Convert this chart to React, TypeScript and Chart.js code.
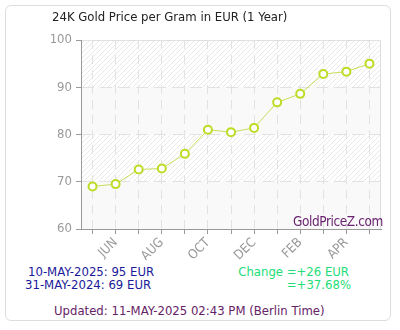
import React, { useEffect, useRef } from "react";
import { Chart, registerables } from "chart.js";

Chart.register(...registerables);

const months = ["MAY", "JUN", "JUL", "AUG", "SEP", "OCT", "NOV", "DEC", "JAN", "FEB", "MAR", "APR", "MAY"];
const prices = [69, 69.5, 72.6, 72.8, 75.9, 81, 80.5, 81.4, 86.8, 88.6, 92.8, 93.3, 95];
const yMin = 60;
const yMax = 100;
const yStep = 10;
const hatchedBands = [[90, 100], [70, 80]];
const grayBands = [[80, 90], [60, 70]];

const titleText = "24K Gold Price per Gram in EUR (1 Year)";
const latestText = "10-MAY-2025: 95 EUR";
const firstText = "31-MAY-2024: 69 EUR";
const changeText = "Change =+26 EUR";
const pctText = "=+37.68%";
const updatedText = "Updated: 11-MAY-2025 02:43 PM (Berlin Time)";
const watermark = "GoldPriceZ.com";

const FONT = "'DejaVu Sans Condensed', 'DejaVu Sans', sans-serif";

function makePattern(ctx: CanvasRenderingContext2D) {
  const n = 5;
  const c = document.createElement("canvas");
  c.width = n;
  c.height = n;
  const p = c.getContext("2d")!;
  p.fillStyle = "#ffffff";
  p.fillRect(0, 0, n, n);
  p.fillStyle = "#e9e9e9";
  for (let i = 0; i < n; i++) p.fillRect(i, n - 1 - i, 1, 1);
  return ctx.createPattern(c, "repeat")!;
}

const bandPlugin = {
  id: "bands",
  beforeDraw(chart: any) {
    const { ctx, chartArea: a, scales } = chart;
    const y = scales.y;
    ctx.save();
    const pat = makePattern(ctx);
    for (const [lo, hi] of hatchedBands) {
      const t = y.getPixelForValue(hi);
      const b = y.getPixelForValue(lo);
      ctx.fillStyle = pat;
      ctx.fillRect(a.left, t, a.right - a.left, b - t);
    }
    for (const [lo, hi] of grayBands) {
      const t = y.getPixelForValue(hi);
      const b = y.getPixelForValue(lo);
      ctx.fillStyle = "#f9f9f9";
      ctx.fillRect(a.left, t, a.right - a.left, b - t);
    }
    ctx.strokeStyle = "#dddddd";
    ctx.lineWidth = 1;
    ctx.beginPath();
    ctx.moveTo(a.left, a.top + 0.5);
    ctx.lineTo(a.right - 0.5, a.top + 0.5);
    ctx.lineTo(a.right - 0.5, a.bottom);
    ctx.stroke();
    ctx.restore();
  },
};

function Label(props: { text: string; left: number; top: number; color: string; size?: number; right?: number }) {
  const size = props.size ?? 13;
  const style: React.CSSProperties = {
    position: "absolute",
    top: props.top,
    fontFamily: FONT,
    fontSize: size,
    lineHeight: "16px",
    color: props.color,
    whiteSpace: "nowrap",
  };
  if (props.right !== undefined) {
    style.left = 0;
    style.width = props.right;
    style.textAlign = "right";
  } else {
    style.left = props.left;
  }
  return <div style={style}>{props.text}</div>;
}

export default function App() {
  const ref = useRef<HTMLCanvasElement>(null);
  useEffect(() => {
    const chart = new Chart(ref.current!, {
      type: "line",
      data: {
        labels: months,
        datasets: [
          {
            data: prices,
            borderColor: "#c6e05a",
            borderWidth: 1,
            pointRadius: 4,
            pointBorderWidth: 2,
            pointBackgroundColor: "#ffffff",
            pointBorderColor: "#bcdc26",
            tension: 0,
          },
        ],
      },
      options: {
        animation: false,
        responsive: false,
        devicePixelRatio: 1,
        layout: { padding: { top: 40, right: 19, left: 0, bottom: 0 } },
        plugins: { legend: { display: false }, tooltip: { enabled: false }, title: { display: false } },
        scales: {
          x: {
            offset: true,
            afterFit: (s: any) => {
              s.height = 31;
            },
            grid: { color: "#e2e2e2", tickColor: "#999999", tickLength: 5, offset: false },
            border: { color: "#999999", dash: [9, 6] },
            ticks: {
              autoSkip: false,
              minRotation: 45,
              maxRotation: 45,
              padding: 1,
              color: "#999999",
              font: { family: FONT, size: 13 },
              callback: (_v: any, i: number) => (i % 2 === 1 ? months[i] : ""),
            },
          },
          y: {
            min: yMin,
            max: yMax,
            afterFit: (s: any) => {
              s.width = 81;
            },
            grid: { color: "#e2e2e2", tickColor: "#999999", tickLength: 5 },
            border: { color: "#999999", dash: [12, 6] },
            ticks: { stepSize: yStep, padding: 4, color: "#999999", font: { family: FONT, size: 13 } },
          },
        },
      },
      plugins: [bandPlugin],
    });
    return () => chart.destroy();
  }, []);

  return (
    <div style={{ position: "absolute", left: 0, top: 0, width: 400, height: 330, background: "#fff" }}>
      <div
        style={{
          position: "absolute",
          left: 5,
          top: 5,
          width: 384,
          height: 314,
          border: "1px solid #dddddd",
          borderRadius: 6,
        }}
      />
      <canvas ref={ref} width={400} height={260} style={{ position: "absolute", left: 0, top: 0 }} />
      <Label text={titleText} left={52} top={9} color="#222222" />
      <div
        style={{
          position: "absolute",
          left: 0,
          width: 383,
          top: 212,
          textAlign: "right",
          fontFamily: FONT,
          fontSize: 13.5,
          letterSpacing: -0.4,
          lineHeight: "18px",
          color: "#6b2470",
          whiteSpace: "nowrap",
        }}
      >
        {watermark}
      </div>
      <Label text={latestText} left={28} top={264} color="#1a1a99" />
      <Label text={firstText} left={25} top={277} color="#1a1a99" />
      <Label text={changeText} left={0} right={349} top={264} color="#22dd77" />
      <Label text={pctText} left={0} right={351} top={277} color="#22dd77" />
      <Label text={updatedText} left={54} top={303} color="#662266" />
    </div>
  );
}
